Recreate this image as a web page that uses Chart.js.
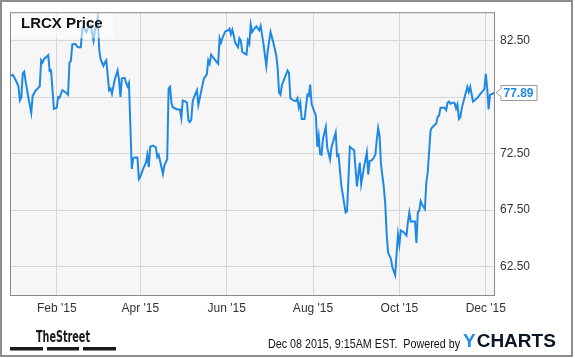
<!DOCTYPE html>
<html>
<head>
<meta charset="utf-8">
<title>LRCX Price</title>
<script src="https://cdn.jsdelivr.net/npm/chart.js@4.4.1/dist/chart.umd.min.js"></script>
<style>
  html, body { margin: 0; padding: 0; background: #fff; }
  #wrap { width: 575px; height: 358px; }
</style>
</head>
<body>
<div id="wrap"><canvas id="priceChart" width="575" height="358"></canvas></div>
<script>
// Days counted from 2015-01-01 (day 0)
const days = [
  -2, 0, 2, 4, 5, 6, 7, 8, 9, 11, 13, 14, 16, 19, 20, 21, 22, 25, 26, 27,
  29, 31, 32, 33, 35, 37, 39, 40, 41, 42, 44, 46, 48, 49, 50, 51, 52, 53, 55, 57,
  58, 59, 60, 61, 62, 64, 65, 66, 68, 69, 70, 72, 74, 75, 76, 77, 79, 80, 81, 82,
  84, 85, 86, 88, 89, 90, 92, 94, 95, 96, 97, 99, 101, 102, 103, 104, 106, 107, 109, 110,
  111, 112, 113, 116, 118, 119, 120, 122, 123, 124, 125, 126, 127, 128, 130, 131, 132, 134, 135, 137,
  138, 139, 140, 143, 145, 146, 147, 148, 150, 152, 153, 154, 155, 156, 157, 159, 160, 161, 162, 163,
  165, 166, 167, 168, 169, 170, 172, 174, 175, 177, 179, 180, 182, 184, 186, 187, 188, 189, 190, 192,
  194, 195, 196, 198, 200, 201, 202, 203, 204, 206, 208, 209, 210, 211, 214, 215, 216, 217, 218, 219,
  221, 222, 224, 225, 228, 229, 230, 232, 235, 236, 238, 239, 241, 243, 245, 246, 248, 250, 251, 252,
  254, 256, 257, 258, 259, 260, 262, 263, 264, 265, 267, 268, 270, 271, 272, 273, 274, 276, 277, 278,
  279, 280, 281, 284, 285, 286, 287, 288, 289, 291, 292, 293, 295, 296, 298, 299, 300, 301, 302, 305,
  306, 307, 308, 309, 311, 312, 313, 314, 315, 316, 317, 319, 321, 322, 323, 324, 325, 327, 328, 330,
  333, 334, 335, 336, 337, 339, 340
];

const prices = [
  79.4, 79.45, 79.0, 78.45, 77.2, 77.45, 79.6, 79.75, 78.9, 77.45, 76.1, 77.6, 78.05, 78.45, 80.75, 80.55, 80.85, 81.2, 79.8, 79.85,
  76.45, 76.55, 77.5, 77.45, 78.1, 77.95, 77.7, 80.55, 80.7, 82.15, 82.2, 81.9, 81.9, 83.45, 83.75, 83.4, 83.25, 83.6, 83.8, 82.5,
  83.45, 83.75, 84.5, 81.7, 80.85, 80.25, 80.55, 80.75, 78.1, 78.25, 77.8, 79.05, 79.85, 79.0, 77.5, 79.15, 79.2, 78.75, 78.45, 78.75,
  71.15, 72.1, 72.15, 72.15, 70.25, 70.45, 71.15, 71.7, 72.4, 71.3, 73.1, 73.2, 73.05, 72.2, 72.4, 71.85, 70.7, 71.45, 72.0, 78.25,
  78.4, 77.0, 76.6, 76.4, 76.4, 75.65, 77.2, 77.1, 77.0, 75.45, 75.3, 75.5, 77.1, 77.5, 78.1, 76.8, 77.4, 78.6, 79.15, 79.5,
  80.75, 80.45, 81.25, 80.75, 80.45, 82.7, 82.3, 82.7, 83.3, 83.4, 83.55, 83.05, 83.45, 82.95, 82.3, 81.9, 82.7, 82.5, 81.5, 81.4,
  81.25, 82.5, 82.2, 83.9, 83.25, 83.45, 83.75, 83.4, 83.8, 82.2, 80.25, 81.55, 83.25, 82.3, 81.2, 80.1, 77.9, 77.7, 78.55, 79.2,
  79.85, 79.65, 77.4, 77.2, 77.15, 77.4, 76.55, 77.0, 75.55, 75.55, 77.7, 77.6, 78.6, 76.85, 75.85, 73.1, 74.05, 72.45, 72.4, 73.8,
  74.85, 73.05, 72.0, 73.05, 74.35, 72.3, 72.4, 69.65, 67.3, 67.4, 73.1, 73.0, 72.8, 69.6, 71.7, 69.8, 71.3, 72.6, 70.65, 71.85,
  71.95, 72.4, 73.7, 74.75, 74.05, 71.55, 69.5, 68.05, 65.4, 63.75, 63.2, 62.45, 61.75, 63.65, 65.35, 64.45, 65.7, 65.55, 65.4, 65.25,
  66.45, 67.3, 66.5, 66.5, 64.6, 67.3, 67.45, 68.3, 68.0, 67.6, 69.95, 70.85, 74.55, 74.8, 75.05, 75.15, 75.75, 75.85, 76.55, 76.55,
  76.35, 77.0, 77.1, 76.9, 77.0, 76.95, 76.5, 76.85, 75.55, 75.7, 76.5, 77.45, 78.4, 77.95, 78.4, 77.75, 77.1, 77.3, 77.4, 77.75,
  78.2, 79.55, 78.3, 76.4, 77.7, 77.8, 77.89
];

// Axis ticks: first day of every second month, and the price grid
const monthTickDays = [31, 90, 151, 212, 273, 334];
const monthTickLabels = ["Feb '15", "Apr '15", "Jun '15", "Aug '15", "Oct '15", "Dec '15"];
const priceTicks = [62.5, 67.5, 72.5, 77.5, 82.5];

const lastPrice = prices[prices.length - 1];
const lineColor = '#1e88e5';
const fontFamily = 'Arial, "Liberation Sans", sans-serif';

Chart.defaults.font.family = fontFamily;

// Draws the bits Chart.js has no option for: panel background, frame, labels, footer
const decorations = {
  id: 'decorations',
  beforeDraw(chart) {
    const ctx = chart.ctx;
    const a = chart.chartArea;
    ctx.save();
    ctx.fillStyle = '#ffffff';
    ctx.fillRect(0, 0, chart.width, chart.height);
    ctx.fillStyle = '#f6f6f6';
    ctx.fillRect(a.left, a.top, a.right - a.left, a.bottom - a.top);
    ctx.restore();
  },
  afterDatasetsDraw(chart) {
    const ctx = chart.ctx;
    const a = chart.chartArea;
    ctx.save();

    // title panel sits on top of the line, half transparent
    ctx.fillStyle = 'rgba(255,255,255,0.55)';
    ctx.fillRect(a.left + 1, a.top + 1, 102, 25);
    ctx.fillStyle = '#111';
    ctx.font = 'bold 15px ' + fontFamily;
    ctx.textBaseline = 'middle';
    ctx.textAlign = 'left';
    ctx.fillText('LRCX Price', 21, 24);

    // plot border
    ctx.strokeStyle = '#8a8a8a';
    ctx.lineWidth = 1;
    ctx.strokeRect(a.left + 0.5, a.top + 0.5, a.right - a.left - 1, a.bottom - a.top);

    // last value flag
    const yPix = chart.scales.y.getPixelForValue(lastPrice);
    const bx = a.right + 6, bw = 36, bh = 15;
    const by = Math.round(yPix) - 7.5;
    ctx.beginPath();
    ctx.moveTo(bx, by);
    ctx.lineTo(bx + bw, by);
    ctx.lineTo(bx + bw, by + bh);
    ctx.lineTo(bx, by + bh);
    ctx.lineTo(bx, yPix + 4);
    ctx.lineTo(a.right + 1, yPix);
    ctx.lineTo(bx, yPix - 4);
    ctx.closePath();
    ctx.fillStyle = '#fff';
    ctx.fill();
    ctx.strokeStyle = '#999';
    ctx.stroke();
    ctx.fillStyle = lineColor;
    ctx.font = 'bold 12px ' + fontFamily;
    ctx.fillText(lastPrice.toFixed(2), bx + 2.5, by + bh / 2 + 0.5);

    ctx.restore();
  },
  afterDraw(chart) {
    const ctx = chart.ctx;
    ctx.save();

    // outer frame
    ctx.strokeStyle = '#8c8c8c';
    ctx.lineWidth = 2;
    ctx.strokeRect(1, 1, 571, 355);

    // TheStreet logo
    ctx.fillStyle = '#1a1a1a';
    ctx.textBaseline = 'alphabetic';
    ctx.textAlign = 'left';
    ctx.font = 'bold 16px "Liberation Sans Narrow", "DejaVu Sans Condensed", ' + fontFamily;
    ctx.fillText('TheStreet', 36, 342, 54);
    ctx.fillRect(10, 347, 33, 3.5);
    ctx.fillRect(47, 347, 32, 3.5);
    ctx.fillRect(83, 347, 33, 3.5);

    // timestamp and YCharts mark
    ctx.font = '12px ' + fontFamily;
    ctx.fillStyle = '#111';
    ctx.textBaseline = 'middle';
    ctx.fillText('Dec 08 2015, 9:15AM EST.  Powered by', 268, 345, 192);

    ctx.font = 'bold 19px ' + fontFamily;
    ctx.fillStyle = '#1e8fe8';
    ctx.fillText('Y', 463, 342);
    const yw = ctx.measureText('Y').width;
    ctx.fillStyle = '#0b1626';
    ctx.fillText('CHARTS', 463 + yw + 1, 342, 563 - (463 + yw + 1));

    ctx.restore();
  }
};

const points = days.map((d, i) => ({ x: d, y: prices[i] }));

new Chart(document.getElementById('priceChart'), {
  type: 'line',
  data: {
    datasets: [{
      label: 'LRCX Price',
      data: points,
      borderColor: lineColor,
      borderWidth: 2,
      pointRadius: 0,
      tension: 0,
      fill: false
    }]
  },
  options: {
    responsive: false,
    animation: false,
    layout: { padding: { left: 10, top: 10, right: 0, bottom: 0 } },
    plugins: {
      legend: { display: false },
      tooltip: { enabled: false },
      title: { display: false }
    },
    scales: {
      x: {
        type: 'linear',
        position: 'bottom',
        min: -2,
        max: 340.5,
        afterFit: (scale) => { scale.height = 63; },
        afterBuildTicks: (scale) => { scale.ticks = monthTickDays.map(v => ({ value: v })); },
        grid: { color: '#d6d6d6', drawTicks: false },
        border: { display: false },
        ticks: {
          padding: 6,
          maxRotation: 0,
          autoSkip: false,
          color: '#333',
          font: { size: 12 },
          callback: (value) => {
            const i = monthTickDays.indexOf(value);
            return i >= 0 ? monthTickLabels[i] : '';
          }
        }
      },
      y: {
        type: 'linear',
        position: 'right',
        min: 60,
        max: 85,
        afterFit: (scale) => { scale.width = 80; },
        afterBuildTicks: (scale) => { scale.ticks = priceTicks.map(v => ({ value: v })); },
        grid: { color: '#d6d6d6', drawTicks: false },
        border: { display: false },
        ticks: {
          padding: 5,
          color: '#333',
          font: { size: 12 },
          callback: (value) => value.toFixed(2)
        }
      }
    }
  },
  plugins: [decorations]
});
</script>
</body>
</html>
